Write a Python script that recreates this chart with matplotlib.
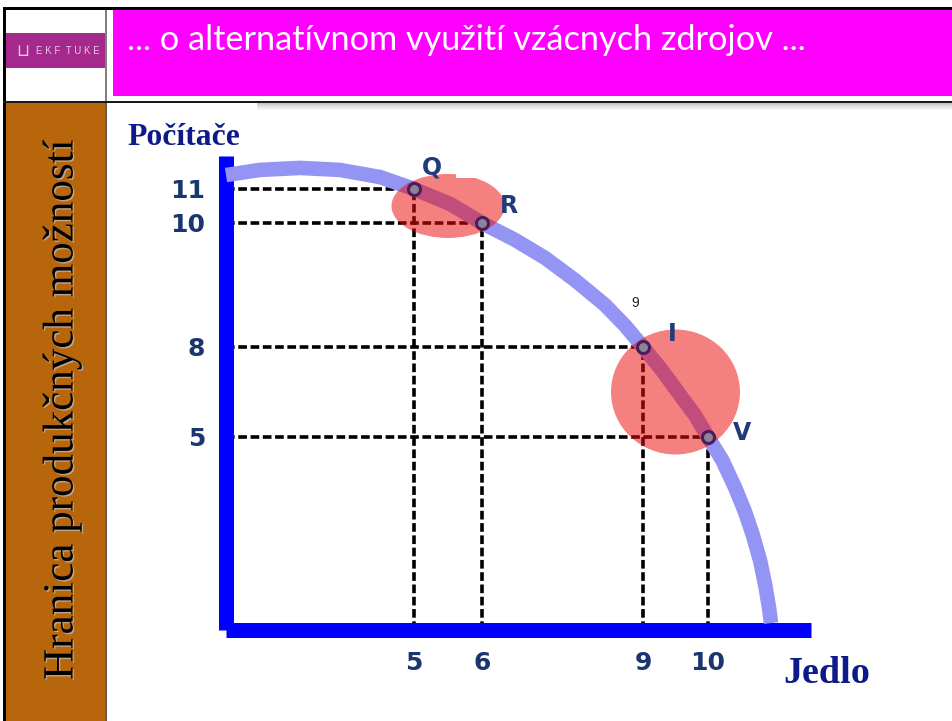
import matplotlib
matplotlib.use('Agg')
import matplotlib.pyplot as plt
import matplotlib.patheffects as pe
from matplotlib.patches import Rectangle, Ellipse
from matplotlib.transforms import IdentityTransform
import numpy as np

# data
title = '... o alternatívnom využití vzácnych zdrojov ...'
side_title = 'Hranica produkčných možností'
x_label = 'Jedlo'
y_label = 'Počítače'

food_ticks = [5, 6, 9, 10]
comp_ticks = [11, 10, 8, 5]

point_names = ['Q', 'R', 'I', 'V']
point_food = [5, 6, 9, 10]
point_comp = [11, 10, 8, 5]

# frontier
frontier_food = [0, 0.90, 1.97, 3.03, 4.10, 5, 5.53, 6, 6.61, 7.17, 7.73, 8.29, 8.66, 9,
                 9.29, 9.57, 9.80, 10, 10.22, 10.42, 10.57, 10.69, 10.80, 10.88, 10.94, 10.97]
frontier_comp = [11.41, 11.56, 11.62, 11.56, 11.35, 11, 10.56, 10, 9.73, 9.44, 9.08, 8.68, 8.35, 8,
                 7.23, 6.40, 5.73, 5, 4.40, 3.68, 3.06, 2.46, 1.81, 1.17, 0.57, 0.18]

# the original drawing is not to scale: piecewise scale (value -> pixels)
X_KNOTS = [-1, 0, 5, 6, 9, 10, 13]
X_PIX = [-37.6, 0, 188, 256, 417, 482, 677]
Y_KNOTS = [-1, 0, 5, 8, 10, 11, 13]
Y_PIX = [-38.6, 0, 193, 283, 407, 441, 509]

W, H = 952, 721
fig = plt.figure(figsize=(W / 100, H / 100), dpi=100)
fig.patch.set_facecolor('white')


def px_rect(x, y, w, h, color, z=0):
    fig.add_artist(Rectangle((x / W, 1 - (y + h) / H), w / W, h / H,
                             transform=fig.transFigure, facecolor=color,
                             edgecolor='none', zorder=z))


# slide frame
px_rect(3, 7, W - 3, 3, 'black')
px_rect(3, 7, 3, H - 7, 'black')
px_rect(105, 10, 2, 92, '#808080')
px_rect(113, 10, W - 113, 86, '#ff00ff')
px_rect(6, 33, 99, 35, '#a5288c')
px_rect(3, 101, W - 3, 2, '#1a1a1a')
shades = ['#c4c4c4', '#cfcfcf', '#d9d9d9', '#e2e2e2', '#eaeaea', '#f1f1f1', '#f7f7f7']
for i, c in enumerate(shades):
    px_rect(257, 103 + i, W - 257, 1, c)
px_rect(6, 103, 99, H - 103, '#b8660b')
px_rect(105, 103, 2, H - 103, '#6b5a4a')

fig.text(23 / W, 1 - 51 / H, '⊔', color='#e8c8e2', fontsize=12, ha='center', va='center')
fig.text(68 / W, 1 - 51 / H, 'E K F  T U K E', color='#e8c8e2', fontsize=7, ha='center', va='center',
         family='Liberation Sans')
fig.text(127 / W, 1 - 50 / H, title, color='white', fontsize=24.7, family='Lato',
         ha='left', va='baseline')
fig.text(62 / W, 1 - 410 / H, side_title, rotation=90, fontsize=31, family='Liberation Serif',
         color='black', ha='center', va='center',
         path_effects=[pe.withSimplePatchShadow(offset=(1.0, -1.0), shadow_rgbFace='#c0c0c0', alpha=0.7)])

# chart
ax = fig.add_axes([226 / W, 91 / H, 585 / W, 474 / H])
ax.set_facecolor('none')
ax.set_xscale('function', functions=(lambda v: np.interp(v, X_KNOTS, X_PIX),
                                     lambda v: np.interp(v, X_PIX, X_KNOTS)))
ax.set_yscale('function', functions=(lambda v: np.interp(v, Y_KNOTS, Y_PIX),
                                     lambda v: np.interp(v, Y_PIX, Y_KNOTS)))
ax.set_xlim(0, 11.585)
ax.set_ylim(0, 11.97)

for s in ['top', 'right']:
    ax.spines[s].set_visible(False)
for s in ['left', 'bottom']:
    ax.spines[s].set_color('#0000ff')
    ax.spines[s].set_linewidth(10.8)
    ax.spines[s].set_capstyle('butt')

tick_font = dict(family='DejaVu Sans', weight='bold', size=18)
ax.set_xticks(food_ticks)
ax.set_xticklabels([str(v) for v in food_ticks], color='#1a3570', **tick_font)
ax.set_yticks(comp_ticks)
ax.set_yticklabels([str(v) for v in comp_ticks], color='#1a3570', **tick_font)
ax.tick_params(length=0)
ax.tick_params(axis='x', pad=15)
ax.tick_params(axis='y', pad=15)
ax.minorticks_off()

dash = (0, (2.4, 1.0))
for xf, yc in zip(point_food, point_comp):
    ax.plot([0, xf], [yc, yc], color='black', lw=2.6, linestyle=dash, zorder=2, clip_on=False)
    ax.plot([xf, xf], [0, yc], color='black', lw=2.6, linestyle=dash, zorder=2, clip_on=False)

ax.plot(frontier_food, frontier_comp, color='#9494f4', lw=10.5, solid_joinstyle='round',
        solid_capstyle='butt', zorder=3, clip_on=False)

# highlight ellipses around the pairs Q-R and I-V (pixel space)
def disp(i):
    return ax.transData.transform((point_food[i], point_comp[i]))

pairs = [(0, 1, 113, 64), (2, 3, 129, 125)]
for a, b, w, h in pairs:
    c = (disp(a) + disp(b)) / 2
    ax.add_artist(Ellipse(c, w, h, transform=IdentityTransform(), facecolor='#ec0c0c',
                          alpha=0.52, edgecolor='none', zorder=4, clip_on=False))
    if a == 0:
        ax.add_artist(Rectangle((c[0] + 8, c[1] + 28), 55, 14, transform=IdentityTransform(),
                                facecolor='white', edgecolor='none', zorder=4.5, clip_on=False))

ax.scatter(point_food, point_comp, s=75, facecolor='#8c8496', edgecolor='#4a1d5e',
           linewidth=2.2, zorder=5, clip_on=False)

offsets = [(18, 21), (27, 17), (29, 13), (34, 4)]
for name, xf, yc, off in zip(point_names, point_food, point_comp, offsets):
    ax.annotate(name, (xf, yc), xytext=off, textcoords='offset pixels', ha='center',
                va='center', color='#1f3b7a', fontsize=17, weight='bold',
                family='DejaVu Sans', zorder=6, annotation_clip=False)
ax.annotate('9', (point_food[2], point_comp[2]), xytext=(-8, 44), textcoords='offset pixels',
            ha='center', va='center', color='#222222', fontsize=10, family='Liberation Sans',
            annotation_clip=False)

fig.text(127 / W, 1 - 145 / H, y_label, color='#0d1a8a', fontsize=22.8, weight='bold',
         family='Liberation Serif', ha='left', va='baseline')
fig.text(783 / W, 1 - 683 / H, x_label, color='#0d1a8a', fontsize=27.5, weight='bold',
         family='Liberation Serif', ha='left', va='baseline')

fig.savefig('out.png', dpi=100)
